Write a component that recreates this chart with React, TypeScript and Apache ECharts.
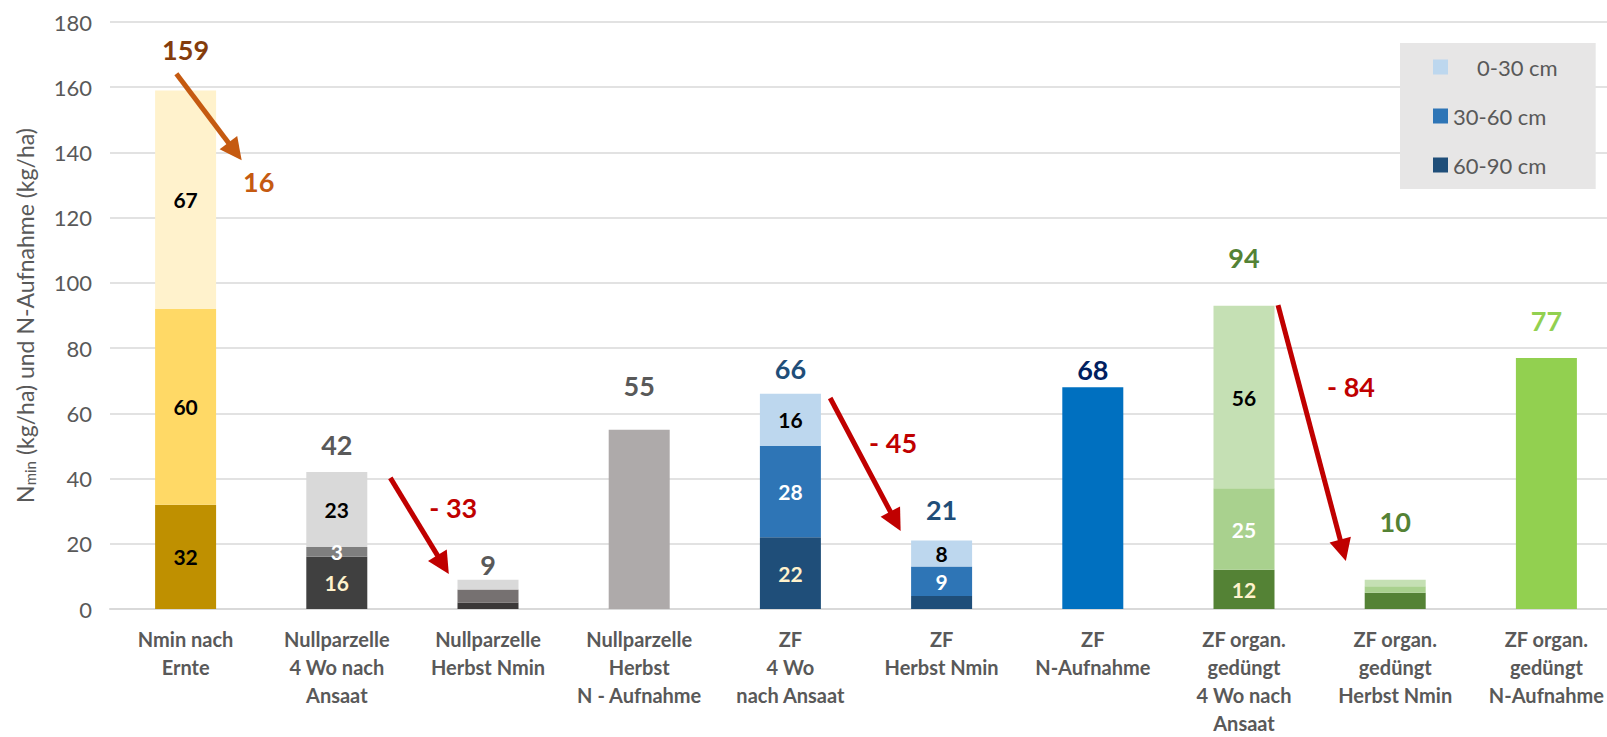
import React, { useEffect, useRef } from "react";
import * as echarts from "echarts";

const categories = [
  "Nmin nach\nErnte",
  "Nullparzelle\n4 Wo nach\nAnsaat",
  "Nullparzelle\nHerbst Nmin",
  "Nullparzelle\nHerbst\nN - Aufnahme",
  "ZF\n4 Wo\nnach Ansaat",
  "ZF\nHerbst Nmin",
  "ZF\nN-Aufnahme",
  "ZF organ.\ngedüngt\n4 Wo nach\nAnsaat",
  "ZF organ.\ngedüngt\nHerbst Nmin",
  "ZF organ.\ngedüngt\nN-Aufnahme",
];

// 60-90 cm (bottom), 30-60 cm (middle), 0-30 cm (top)
const layer6090 = [32, 16, 2, 55, 22, 4, 68, 12, 5, 77];
const layer3060 = [60, 3, 4, null, 28, 9, null, 25, 2, null];
const layer030 = [67, 23, 3, null, 16, 8, null, 56, 2, null];
const totals = [159, 42, 9, 55, 66, 21, 68, 94, 10, 77];

const yTicks = { min: 0, max: 180, interval: 20 };

// arrows: [startIndex, startValue, endIndex, endValue]
const arrows = [
  [-0.061, 164.1, 0.327, 140.3],
  [1.354, 40.2, 1.703, 13.6],
  [4.263, 64.7, 4.695, 26.9],
  [7.225, 93.2, 7.655, 18.0],
];
const arrowLabels = ["16", "- 33", "- 45", "- 84"];
const arrowLabelPos = [
  [0.483, 131.1],
  [1.77, 31.0],
  [4.679, 51.2],
  [7.708, 68.2],
];

// styles
const color6090 = ["#BF9000", "#404040", "#3B3838", "#AEAAAA", "#1F4E79", "#1F4E79", "#0070C0", "#548235", "#548235", "#92D050"];
const color3060 = ["#FFD966", "#7F7F7F", "#767171", null, "#2E75B6", "#2E75B6", null, "#A9D18E", "#A9D18E", null];
const color030 = ["#FFF2CC", "#D9D9D9", "#D9D9D9", null, "#BDD7EE", "#BDD7EE", null, "#C5E0B4", "#C5E0B4", null];
const lbl6090 = ["#000000", "#FFF2CC", null, null, "#FFF2CC", null, null, "#FFF2CC", null, null];
const lbl3060 = ["#000000", "#FFFFFF", null, null, "#FFFFFF", "#FFFFFF", null, "#FFFFFF", null, null];
const lbl030 = ["#000000", "#000000", null, null, "#000000", "#000000", null, "#000000", null, null];
const totalColors = ["#843C0C", "#595959", "#595959", "#595959", "#1F4E79", "#1F4E79", "#002060", "#548235", "#548235", "#92D050"];
const totalLift = [27, 14.5, 2, 30.5, 11.5, 17.5, 4.5, 31.5, 41, 23.5];
const arrowColors = ["#C55A11", "#C00000", "#C00000", "#C00000"];

const FONT = "Lato";

function layerData(values: (number | null)[], colors: (string | null)[], lcolors: (string | null)[]) {
  return values.map((v, i) => ({
    value: v,
    itemStyle: { color: colors[i] || "transparent" },
    label: { show: !!lcolors[i], color: lcolors[i] || "#000" },
  }));
}

export default function App() {
  const ref = useRef<HTMLDivElement>(null);
  useEffect(() => {
    if (!ref.current) return;
    const chart = echarts.init(ref.current, null, { renderer: "svg" });
    const insideLabel = {
      position: "inside",
      fontFamily: FONT,
      fontSize: 21,
      fontWeight: "bold",
    };
    const option: any = {
      animation: false,
      backgroundColor: "#FFFFFF",
      textStyle: { fontFamily: FONT },
      grid: {
        left: 110,
        width: 1512,
        top: 22,
        bottom: 128,
        containLabel: false,
        outerBoundsMode: "none",
      },
      legend: {
        data: ["0-30 cm", "30-60 cm", "60-90 cm"],
        orient: "vertical",
        left: 1400,
        top: 43,
        backgroundColor: "#E7E6E6",
        padding: [13, 38, 13, 33],
        itemWidth: 15,
        itemHeight: 15,
        itemGap: 27,
        icon: "rect",
        formatter: (name: string) => (name === "0-30 cm" ? "{pad|" + name + "}" : name),
        textStyle: {
          fontFamily: FONT,
          fontSize: 22,
          color: "#595959",
          rich: {
            pad: { padding: [0, 0, 0, 24], fontFamily: FONT, fontSize: 22, color: "#595959" },
          },
        },
      },
      xAxis: [
        {
          type: "category",
          data: categories,
          axisLine: { show: true, lineStyle: { color: "#D9D9D9", width: 2 } },
          axisTick: { show: false },
          axisLabel: {
            interval: 0,
            fontFamily: FONT,
            fontSize: 20,
            fontWeight: "bold",
            color: "#595959",
            lineHeight: 28,
            margin: 16,
          },
        },
        { type: "value", min: -0.5, max: 9.5, show: false, position: "top" },
      ],
      yAxis: {
        type: "value",
        min: yTicks.min,
        max: yTicks.max,
        interval: yTicks.interval,
        axisLine: { show: false },
        axisTick: { show: false },
        splitLine: { lineStyle: { color: "#D9D9D9", width: 1.5 } },
        axisLabel: { fontFamily: FONT, fontSize: 22, color: "#595959", margin: 18 },
        name: "N{sub|min} (kg/ha) und N-Aufnahme (kg/ha)",
        nameLocation: "middle",
        nameGap: 73,
        nameRotate: 90,
        nameTextStyle: {
          fontFamily: FONT,
          fontSize: 23,
          color: "#595959",
          rich: {
            sub: { fontFamily: FONT, fontSize: 15, color: "#595959", padding: [10, 0, 0, 0] },
          },
        },
      },
      series: [
        {
          name: "60-90 cm",
          type: "bar",
          stack: "n",
          barWidth: 61,
          itemStyle: { color: "#1F4E79" },
          label: insideLabel,
          data: layerData(layer6090, color6090, lbl6090),
        },
        {
          name: "30-60 cm",
          type: "bar",
          stack: "n",
          barWidth: 61,
          itemStyle: { color: "#2E75B6" },
          label: insideLabel,
          data: layerData(layer3060, color3060, lbl3060),
        },
        {
          name: "0-30 cm",
          type: "bar",
          stack: "n",
          barWidth: 61,
          itemStyle: { color: "#BDD7EE" },
          label: insideLabel,
          data: layerData(layer030, color030, lbl030),
        },
        {
          name: "Summe",
          type: "bar",
          barWidth: 61,
          barGap: "-100%",
          z: 1,
          itemStyle: { color: "transparent" },
          data: totals.map((v, i) => ({
            value: v,
            label: {
              show: true,
              position: "top",
              distance: totalLift[i],
              color: totalColors[i],
              fontFamily: FONT,
              fontSize: 27,
              fontWeight: "bold",
            },
          })),
        },
        {
          name: "Pfeile",
          type: "lines",
          coordinateSystem: "cartesian2d",
          xAxisIndex: 1,
          yAxisIndex: 0,
          symbol: ["none", "triangle"],
          symbolSize: 22,
          z: 5,
          data: arrows.map((a, i) => ({
            coords: [
              [a[0], a[1]],
              [a[2], a[3]],
            ],
            lineStyle: { color: arrowColors[i], width: 5, opacity: 1 },
          })),
        },
        {
          name: "Differenz",
          type: "scatter",
          xAxisIndex: 1,
          yAxisIndex: 0,
          symbolSize: 0,
          z: 6,
          itemStyle: { opacity: 1 },
          data: arrowLabelPos.map((p, i) => ({
            value: p,
            name: arrowLabels[i],
            itemStyle: { opacity: 1 },
            label: {
              show: true,
              position: "inside",
              formatter: arrowLabels[i],
              color: arrowColors[i],
              opacity: 1,
              fontFamily: FONT,
              fontSize: 27,
              fontWeight: "bold",
            },
          })),
        },
      ],
    };
    chart.setOption(option);
    return () => chart.dispose();
  }, []);
  return (
    <div
      ref={ref}
      style={{ position: "fixed", left: 0, top: 0, width: 1607, height: 737, background: "#fff" }}
    />
  );
}
